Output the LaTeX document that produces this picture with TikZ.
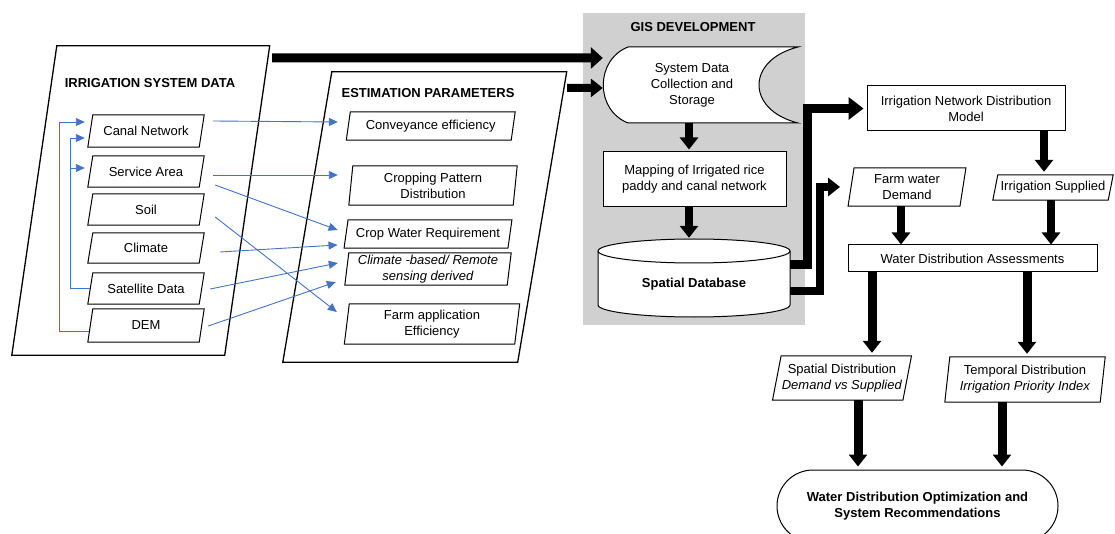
\documentclass[tikz,border=0pt]{standalone}
\usepackage{fontspec}
\setmainfont{Liberation Sans}
\usetikzlibrary{arrows.meta,calc}
\definecolor{bl}{HTML}{4472C4}
\definecolor{gisgray}{RGB}{208,208,208}
\begin{document}
\begin{tikzpicture}[x=1pt,y=-1pt,
  every node/.style={font=\fontsize{13}{16}\selectfont, align=center, inner sep=0pt},
  sz/.style 2 args={minimum width=#1pt, minimum height=#2pt},
  rbox/.style={draw, line width=1pt, fill=white},
  barrow/.style={draw=bl, line width=0.9pt, -{Triangle[width=8pt,length=9pt]}},
  bk/.style={line width=#1, line join=miter, -{Triangle[width=18pt,length=12pt]}},
  bk/.default=8pt,
  bkbig/.style={line width=9pt, line join=miter, -{Triangle[width=22pt,length=15pt]}},
]
\useasboundingbox (0,0) rectangle (1115,534);
\clip (0,0) rectangle (1115,534);

% GIS background
\fill[gisgray] (583,13) rectangle (805,325);
\node (gist) at (693,27) {\textbf{GIS DEVELOPMENT}};

% big parallelograms (frames)
\node[sz={212.5}{309}] (isd) at (140.75,200.5) {};
\node[sz={234.5}{290}] (ep) at (424.75,217) {};
\node (isdt) at (150,83) {\textbf{IRRIGATION SYSTEM DATA}};
\node (ept) at (428,93) {\textbf{ESTIMATION PARAMETERS}};

% irrigation system data items
\node[sz={111}{32}] (cn) at (146,131) {Canal Network};
\node[sz={111}{31}] (sa) at (146,171.5) {Service Area};
\node[sz={111}{31}] (so) at (146,209.5) {Soil};
\node[sz={111}{30}] (cl) at (146,248) {Climate};
\node[sz={111}{31}] (sat) at (146,288.5) {Satellite Data};
\node[sz={111}{33}] (dem) at (146,325.5) {DEM};

% estimation parameters items
\node[sz={164.5}{28}] (ce) at (430.75,126) {Conveyance efficiency};
\node[sz={164}{39}] (cpd) at (433,185.5) {Cropping Pattern\\Distribution};
\node[sz={163.5}{28}] (cwr) at (428,234) {Crop Water Requirement};
\node[sz={162}{32}] (cbr) at (428,269) {\textit{Climate -based/ Remote}\\\textit{sensing derived}};
\node[sz={170}{40}] (fae) at (432,324) {Farm application\\Efficiency};

% right side parallelograms
\node[sz={111.5}{38}] (fwd) at (907,187) {Farm water\\Demand};
\node[sz={115}{25}] (is) at (1053,187.5) {Irrigation Supplied};
\node[sz={130}{44}] (sd) at (842,378) {Spatial Distribution\\\textit{Demand vs Supplied}};
\node[sz={155}{45}] (td) at (1025,379.5) {Temporal Distribution\\\textit{Irrigation Priority Index}};

\foreach \n/\s in {isd/22.5, ep/24.5}
  \draw[line width=1.3pt] ($(\n.south west)+(-\s,0)$) -- ($(\n.north west)+(\s,0)$) -- ($(\n.north east)+(\s,0)$) -- ($(\n.south east)+(-\s,0)$) -- cycle;
\foreach \n/\s in {cn/2.5, sa/2.5, so/2.5, cl/2.5, sat/2.5, dem/2.5, ce/2, cpd/2, cwr/2, cbr/2, fae/2.5, fwd/3, is/2.5, sd/4.3, td/2.5}
  \draw[line width=1pt] ($(\n.south west)+(-\s,0)$) -- ($(\n.north west)+(\s,0)$) -- ($(\n.north east)+(\s,0)$) -- ($(\n.south east)+(-\s,0)$) -- cycle;

% stored data shape
\draw[line width=1pt, fill=white] (628,47) -- (798,47) .. controls (746,60) and (746,110) .. (798,123) -- (628,123) .. controls (595,110) and (595,60) .. (628,47) -- cycle;
\node[sz={178}{76}] (sdc) at (692,85) {System Data\\Collection and\\Storage};

% mapping box
\node[rbox, sz={183}{55}] (map) at (694.5,179.5) {Mapping of Irrigated rice\\paddy and canal network};

% cylinder
\draw[line width=1pt, fill=white] (598,251) -- (598,305) arc[start angle=180, end angle=360, x radius=96pt, y radius=12pt] -- (790,251) arc[start angle=0, end angle=180, x radius=96pt, y radius=12pt] -- cycle;
\draw[line width=1pt] (598,251) arc[start angle=180, end angle=360, x radius=96pt, y radius=12pt];
\node[sz={192}{42}] (sdb) at (694,284) {\textbf{Spatial Database}};

% right boxes
\node[rbox, sz={198}{45}] (indm) at (966,108.5) {Irrigation Network Distribution\\Model};
\node[rbox, sz={249}{27}] (wda) at (972.5,258.5) {Water Distribution Assessments};
\node[rbox, sz={281}{72}, rounded corners=36pt] (opt) at (917.5,506) {\textbf{Water Distribution Optimization and}\\\textbf{System Recommendations}};

% blue feedback arrows
\draw[barrow] ($(dem.west)+(-1.5,6)$) -- ++(-29,0) |- ($(cn.west)+(-5.5,-9)$);
\draw[barrow] (sat.west) -- ++(-19.5,0) |- ($(cn.west)+(-5.5,7)$);
\draw[barrow] ($(sat.west)+(-19.5,0)$) |- ($(sa.west)+(-5.5,-3.5)$);

% blue arrows to estimation parameters
\draw[barrow] ($(cn.east)+(11.5,-10)$) -- ($(ce.west)+(-10.5,-4)$);
\draw[barrow] ($(sa.east)+(11.5,3.5)$) -- ($(cpd.west)+(-13,-10.5)$);
\draw[barrow] ($(sa.east)+(13.5,13.5)$) -- ($(cwr.west)+(-8.5,-4)$);
\draw[barrow] ($(so.east)+(13.5,7.5)$) -- ($(fae.west)+(-10,-12)$);
\draw[barrow] ($(cl.east)+(18.5,4)$) -- ($(cwr.west)+(-8.5,11)$);
\draw[barrow] ($(sat.east)+(8.5,0.5)$) -- ($(cbr.west)+(-9,-6)$);
\draw[barrow] ($(dem.east)+(6.5,0.5)$) -- ($(cbr.west)+(-11,13)$);

% black arrows
\draw[line width=9pt, -{Triangle[width=21pt,length=12pt]}] ($(isd.north east)+(25,12)$) -- ($(sdc.west)+(0,-27)$);
\draw[bk] ($(ep.north east)+(25,16)$) -- ($(sdc.west)+(0,3)$);
\draw[bk] ($(sdc.south)+(-3,0)$) -- ($(map.north)+(-5.5,-2)$);
\draw[bk] ($(map.south)+(-5.5,0)$) -- ($(sdb.north)+(-5,-25)$);
\draw[bkbig] ($(sdb.east)+(0,-19)$) -- ++(17,0) |- ($(indm.west)+(-3,0)$);
\draw[bk] ($(sdb.east)+(0,7)$) -- ++(30,0) |- ($(fwd.west)+(-11,0)$);
\draw[bk] ($(indm.south)+(78,0)$) -- ($(is.north)+(-9,-3)$);
\draw[bk] ($(fwd.south)+(-6,0)$) -- ($(wda.north)+(-71.5,0)$);
\draw[bk] ($(is.south)+(-2,0)$) -- ($(wda.north)+(78.5,0)$);
\draw[bk=9pt] ($(wda.south)+(-100.5,0)$) -- ($(sd.north)+(30,-3)$);
\draw[bk=9pt] ($(wda.south)+(54.5,0)$) -- ($(td.north)+(2,-3)$);
\draw[bk=9pt] ($(sd.south)+(16,0)$) -- ($(opt.north)+(-59.5,-3)$);
\draw[bk=9pt] ($(td.south)+(-23,0)$) -- ($(opt.north)+(84.5,-3)$);
\end{tikzpicture}
\end{document}
